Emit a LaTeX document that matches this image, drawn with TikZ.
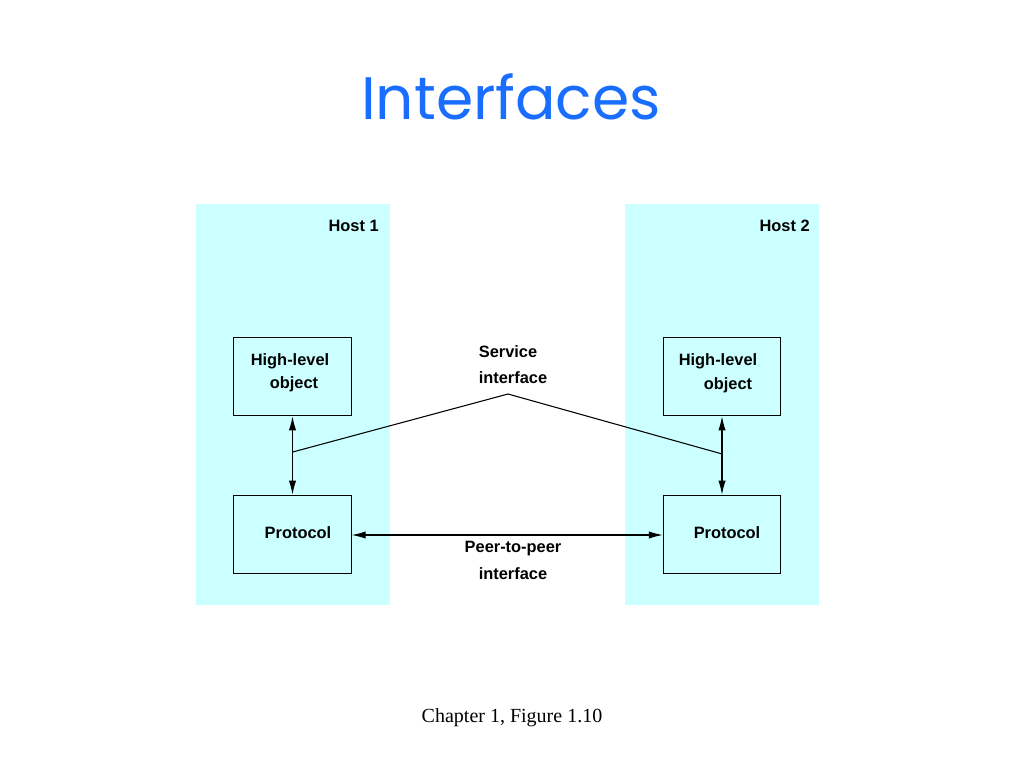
\documentclass[tikz,border=0pt]{standalone}
\usepackage{fontspec}
\setmainfont{Liberation Sans}
\newfontfamily\titlefont{Poppins}
\newfontfamily\capfont{Liberation Serif}
\usepackage{tikz}
\usetikzlibrary{arrows.meta,positioning,calc}
\definecolor{hostcyan}{RGB}{204,255,255}
\definecolor{titleblue}{RGB}{26,110,255}

\begin{document}
\begin{tikzpicture}
[x=0.75pt,y=-0.75pt,
host/.style={fill=hostcyan,draw=none},
layer/.style={rectangle,draw=black,line width=0.8pt,minimum width=88pt,minimum height=59pt,inner sep=0pt},
lbl/.style={font=\fontsize{12.3}{14}\selectfont\bfseries,inner sep=0pt},
link/.style={line width=0.8pt,{Latex[length=10.5pt,width=5.5pt]}-{Latex[length=10.5pt,width=5.5pt]}}]
\useasboundingbox (0,0) rectangle (1024,768);
\node[text=titleblue,font=\titlefont\fontsize{45}{50}\selectfont] (title) at (511,97) {Interfaces};

\fill[host] (196,204) rectangle (390,605);
\fill[host] (625,204) rectangle (819,605);
\node[lbl,anchor=east] (h1) at (379,226) {Host 1};
\node[lbl,anchor=east] (h2) at (810,226) {Host 2};

\node[layer] (hl1) at (292.5,376.5) {};
\node[layer] (pr1) at (292.5,534.5) {};
\node[layer] (hl2) at (722,376.5) {};
\node[layer] (pr2) at (722,534.5) {};

\node[lbl] (hl1a) at (290,361) {High-level};
\node[lbl] (hl1b) at (294,384) {object};
\node[lbl] (pr1a) at (298,533) {Protocol};
\node[lbl] (hl2a) at (718,361) {High-level};
\node[lbl] (hl2b) at (728,385) {object};
\node[lbl] (pr2a) at (727,533) {Protocol};

\node[lbl] (svc1) at (508,352) {Service};
\node[lbl] (svc2) at (513,378) {interface};
\node[lbl] (p2p1) at (513,549) {Peer-to-peer};
\node[lbl] (p2p2) at (513,574) {interface};

\draw[link] (hl1.south) -- (pr1.north);
\draw[link] (hl2.south) -- (pr2.north);
\draw[link] (pr1.east |- 0,535) -- (pr2.west |- 0,535);

\coordinate (svc) at (508,394);
\coordinate (sl) at ($(hl1.south)!0.456!(pr1.north)$);
\coordinate (sr) at ($(hl2.south)!0.48!(pr2.north)$);
\draw[line width=0.8pt] (sl) -- (svc) -- (sr);

\node[font=\capfont\fontsize{15}{18}\selectfont] (cap) at (512,718) {Chapter 1, Figure 1.10};
\end{tikzpicture}
\end{document}
